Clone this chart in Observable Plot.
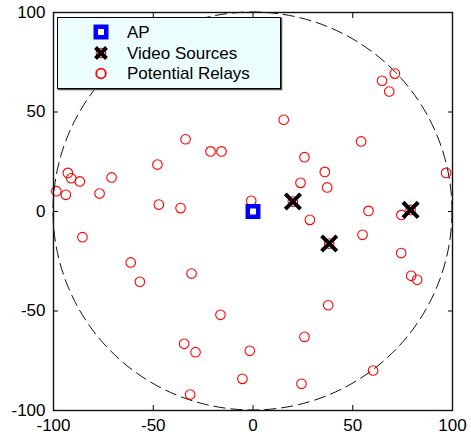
<!DOCTYPE html>
<html>
<head>
<meta charset="utf-8">
<script src="https://cdn.jsdelivr.net/npm/d3@7"></script>
<script src="https://cdn.jsdelivr.net/npm/@observablehq/plot@0.6"></script>
<style>
  html, body { margin: 0; padding: 0; background: white; }
  #chart { position: relative; width: 471px; height: 435px; }
</style>
</head>
<body>
<div id="chart"></div>
<script>
// Potential relays
const relayX = [-33.8, -21.3, -15.8, -47.9, -70.9, -92.8, -91.1, -86.8, -98.6, -93.8, -76.9, -47.2, -36.3,
  71.1, 64.7, 68.3, 15.4, 54.2, 25.8, 36.0, 96.8, 23.8, 37.2, -0.9, 57.9, 74.4, 28.5,
  54.9, 74.3, 79.3, 82.3, 37.7, 25.8, -1.6, 60.2, -5.3, 24.3,
  -85.5, -61.3, -56.7, -30.8, -16.3, -34.5, -28.8, -31.5];
const relayY = [36.3, 30.2, 30.2, 23.6, 17.1, 19.4, 16.7, 15.1, 10.2, 8.4, 9.0, 3.5, 1.7,
  69.3, 65.7, 60.3, 46.1, 35.2, 27.3, 19.9, 19.4, 14.4, 12.1, 5.4, 0.3, -1.7, -4.2,
  -11.7, -20.9, -32.3, -34.3, -47.1, -63.0, -70.0, -79.9, -84.1, -86.6,
  -12.9, -25.6, -35.3, -31.2, -51.9, -66.5, -70.7, -92.0];
// Video sources (also relays)
const videoX = [20.0, 38.2, 79.0];
const videoY = [5.0, -16.1, 0.8];
// Access point
const apX = [0];
const apY = [0];
// Coverage radius
const coverageRadius = [100];
// Ticks
const ticks = [-100, -50, 0, 50, 100];
const legendLabels = ["AP", "Video Sources", "Potential Relays"];

const relays = relayX.map((x, i) => ({x, y: relayY[i]}));
const videos = videoX.map((x, i) => ({x, y: videoY[i]}));
const ap = apX.map((x, i) => ({x, y: apY[i]}));

const circleMark = (index, scales) => {
  const x = scales.x, y = scales.y;
  const R = coverageRadius[0];
  const g = d3.create("svg:g");
  g.append("ellipse")
    .attr("cx", x(0)).attr("cy", y(0))
    .attr("rx", x(R) - x(0)).attr("ry", y(0) - y(R))
    .attr("fill", "none").attr("stroke", "#111").attr("stroke-width", 1)
    .attr("stroke-dasharray", "12,5");
  return g.node();
};

const fmt = d => String(d);
const none = () => "";

const plot = Plot.plot({
  width: 471,
  height: 435,
  marginLeft: 53,
  marginRight: 19,
  marginTop: 12,
  marginBottom: 25,
  style: {fontFamily: "'Liberation Sans', Arial, sans-serif", fontSize: "17px", background: "white", color: "black", overflow: "visible"},
  x: {domain: [-100, 100], ticks: ticks, label: null},
  y: {domain: [-100, 100], ticks: ticks, label: null},
  marks: [
    circleMark,
    Plot.dot(relays, {x: "x", y: "y", r: 4.8, stroke: "#f00", strokeWidth: 1.1}),
    Plot.dot(videos, {x: "x", y: "y", r: 4.8, stroke: "#f00", strokeWidth: 1.1}),
    Plot.dot(videos, {x: "x", y: "y", symbol: "times", r: 7, stroke: "black", strokeWidth: 4}),
    Plot.dot(ap, {x: "x", y: "y", symbol: "square", r: 5.9, stroke: "#00f", fill: "white", strokeWidth: 4.5}),
    // tick marks inside on all sides
    Plot.axisX({ticks, anchor: "bottom", tickSize: 5, dy: -5, tickFormat: none, label: null}),
    Plot.axisX({ticks, anchor: "top", tickSize: 5, dy: 5, tickFormat: none, label: null}),
    Plot.axisY({ticks, anchor: "left", tickSize: 5, dx: 5, tickFormat: none, label: null}),
    Plot.axisY({ticks, anchor: "right", tickSize: 5, dx: -5, tickFormat: none, label: null}),
    // labels
    Plot.axisX({ticks, anchor: "bottom", tickSize: 0, tickPadding: 8, tickFormat: fmt, label: null}),
    Plot.axisY({ticks, anchor: "left", tickSize: 0, tickPadding: 8, tickFormat: fmt, label: null}),
    Plot.frame({stroke: "#111", strokeWidth: 1.4})
  ]
});

document.getElementById("chart").appendChild(plot);

// Legend inside plot area (upper left)
const svg = d3.select(plot);
const lg = svg.append("g").attr("class", "legend").attr("text-anchor", "start");
lg.append("rect").attr("x", 58.5).attr("y", 18.5).attr("width", 223).attr("height", 71)
  .attr("fill", "none").attr("stroke", "#555").attr("stroke-width", 1.5);
lg.append("rect").attr("x", 57.5).attr("y", 17.5).attr("width", 223).attr("height", 71)
  .attr("fill", "#ebfdfd").attr("stroke", "black").attr("stroke-width", 1);
const rowY = [32, 53, 73.5];
const mx = 101;
// AP marker
lg.append("rect").attr("x", mx - 5.25).attr("y", rowY[0] - 5.25).attr("width", 10.5).attr("height", 10.5)
  .attr("fill", "white").attr("stroke", "#00f").attr("stroke-width", 4.5);
// Video marker
lg.append("circle").attr("cx", mx).attr("cy", rowY[1]).attr("r", 4.8).attr("fill", "none").attr("stroke", "#f00").attr("stroke-width", 1.1);
lg.append("path").attr("d", `M${mx-5.5},${rowY[1]-5.5}L${mx+5.5},${rowY[1]+5.5}M${mx+5.5},${rowY[1]-5.5}L${mx-5.5},${rowY[1]+5.5}`)
  .attr("stroke", "black").attr("stroke-width", 4).attr("fill", "none");
// Relay marker
lg.append("circle").attr("cx", mx).attr("cy", rowY[2]).attr("r", 4.8).attr("fill", "none").attr("stroke", "#f00").attr("stroke-width", 1.8);
legendLabels.forEach((t, i) => {
  lg.append("text").attr("x", 127).attr("y", rowY[i]).attr("dy", "0.35em")
    .attr("text-anchor", "start")
    .attr("font-family", "'Liberation Sans', Arial, sans-serif").attr("font-size", 17)
    .attr("fill", "black").text(t);
});
</script>
</body>
</html>
